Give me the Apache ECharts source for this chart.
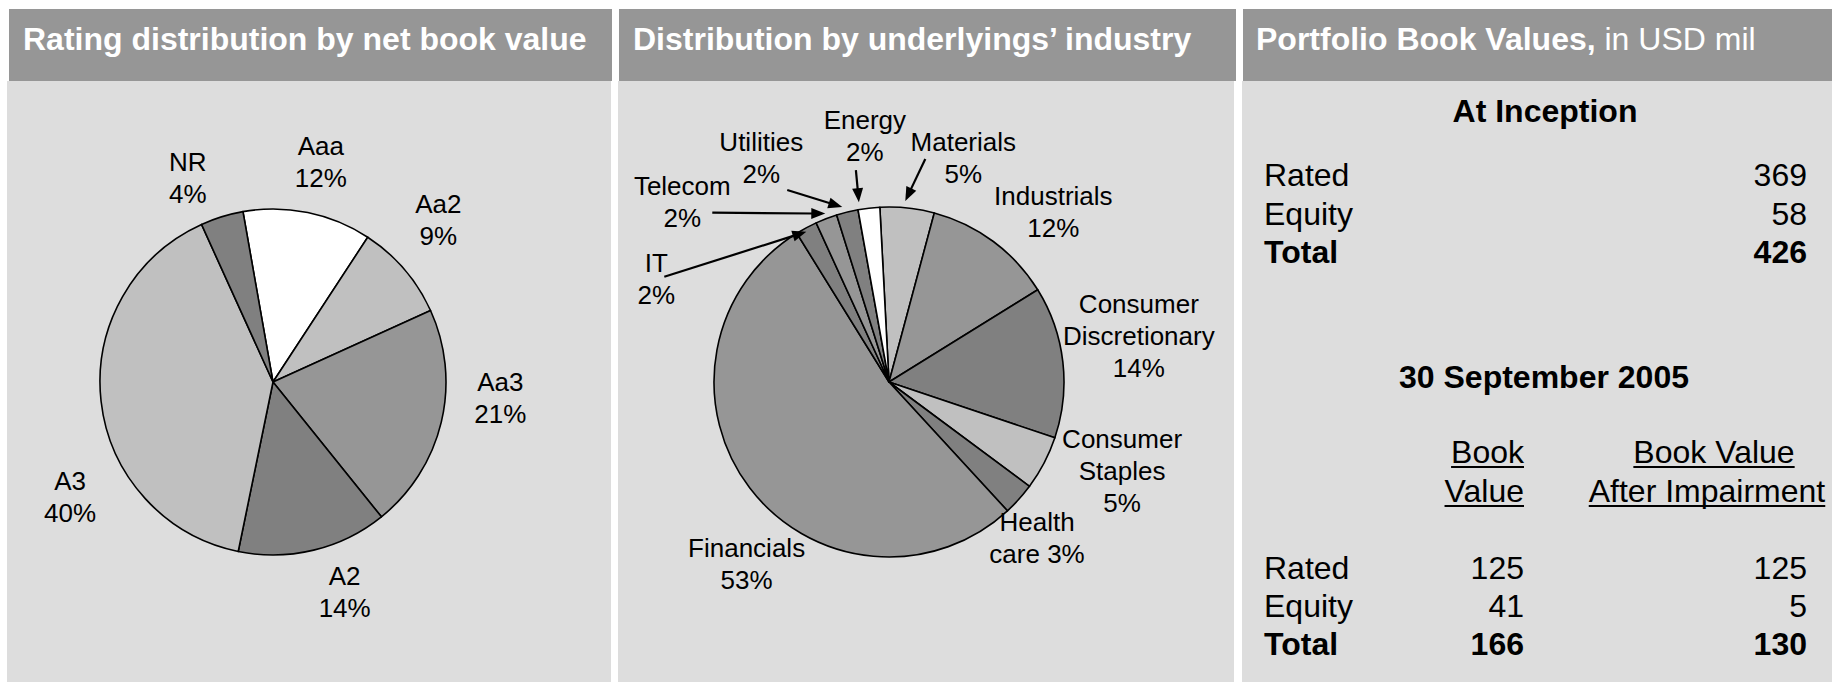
<!DOCTYPE html>
<html>
<head>
<meta charset="utf-8">
<script src="https://cdn.jsdelivr.net/npm/echarts@6/dist/echarts.min.js"></script>
<style>
  html, body { margin: 0; padding: 0; background: #ffffff; }
  #chart { width: 1832px; height: 682px; }
</style>
</head>
<body>
<div id="chart"></div>
<script>
// ---- data ----
const ratingNames = ['Aaa', 'Aa2', 'Aa3', 'A2', 'A3', 'NR'];
const ratingShares = [12, 9, 21, 14, 40, 4];

const industryNames = ['Materials', 'Industrials', 'Consumer\nDiscretionary', 'Consumer\nStaples',
  'Health\ncare', 'Financials', 'IT', 'Telecom', 'Utilities', 'Energy'];
const industryShares = [5, 12, 14, 5, 3, 53, 2, 2, 2, 2];

const panelTitles = ['Rating distribution by net book value', 'Distribution by underlyings\u2019 industry'];
const bookTitleBold = 'Portfolio Book Values,';
const bookTitleUnit = ' in USD mil';

const inceptionHeading = 'At Inception';
const inceptionRows = ['Rated', 'Equity', 'Total'];
const inceptionValues = [369, 58, 426];

const currentHeading = '30 September 2005';
const currentColumns = [['Book', 'Value'], ['Book Value', 'After Impairment']];
const currentRows = ['Rated', 'Equity', 'Total'];
const bookValues = [125, 41, 166];
const impairedValues = [125, 5, 130];

// ---- styling ----
const FONT = '"Liberation Sans", Arial, Helvetica, sans-serif';
const HEADER_FILL = '#969696';
const BODY_FILL = '#dddddd';
const ratingColors = ['#ffffff', '#c0c0c0', '#969696', '#808080', '#c0c0c0', '#808080'];
const industryColors = ['#c0c0c0', '#969696', '#808080', '#c0c0c0', '#808080', '#969696',
  '#808080', '#969696', '#808080', '#ffffff'];

// label placement: offset of each label centre from its slice's outer mid-arc point
const ratingLabelOffsets = [[13, -51], [34, -49], [59, -24], [31, 42], [-31, 96], [-34, -39]];
const industryLabelOffsets = [[56, -50], [60, -30], [76, -26], [78, 8], [18, 39], [-3, 76],
  [-150, 51], [-144, -17], [-86, -54], [-4, -72]];
// pointer arrows for the narrow slices: tail relative to label centre, tip relative to arc point
const industryArrows = {
  0: { tail: [-38, 1], tip: [-2, -7] },
  6: { tail: [8, -2], tip: [0, 4] },
  7: { tail: [30, 11], tip: [-1, -5] },
  8: { tail: [26, 32], tip: [-5, -5] },
  9: { tail: [-9, 34], tip: [-10, -6] }
};
// names whose percentage stays on the last line of the name
const inlinePercent = ['Health\ncare'];

const chart = echarts.init(document.getElementById('chart'), null, { renderer: 'svg', width: 1832, height: 682 });

function sliceArcPoint(seriesIndex, dataIndex) {
  const lay = chart.getModel().getSeriesByIndex(seriesIndex).getData().getItemLayout(dataIndex);
  const mid = (lay.startAngle + lay.endAngle) / 2;
  return [lay.cx + lay.r * Math.cos(mid), lay.cy + lay.r * Math.sin(mid)];
}

function makeLabelLayout(offsets) {
  return function (p) {
    const e = sliceArcPoint(p.seriesIndex, p.dataIndex);
    const o = offsets[p.dataIndex];
    return { x: e[0] + o[0], y: e[1] + o[1], align: 'center', verticalAlign: 'middle', hideOverlap: false };
  };
}

function pctLabel(p) {
  const sep = inlinePercent.indexOf(p.name) >= 0 ? ' ' : '\n';
  return p.name + sep + p.value + '%';
}

function pieSeries(names, values, colors, center, radius, startAngle, offsets) {
  return {
    type: 'pie',
    center: center,
    radius: radius,
    startAngle: startAngle,
    clockwise: true,
    silent: true,
    avoidLabelOverlap: false,
    emphasis: { disabled: true },
    itemStyle: { borderColor: '#000000', borderWidth: 1.6 },
    label: {
      show: true,
      position: 'outside',
      formatter: pctLabel,
      fontFamily: FONT,
      fontSize: 26,
      lineHeight: 32,
      color: '#000000',
      align: 'center'
    },
    labelLine: { show: false },
    labelLayout: makeLabelLayout(offsets),
    data: names.map((n, i) => ({ name: n, value: values[i], itemStyle: { color: colors[i] } }))
  };
}

// text width helper for underlines
const measureCtx = document.createElement('canvas').getContext('2d');
function textWidth(str, size, weight) {
  measureCtx.font = (weight || 'normal') + ' ' + size + 'px ' + FONT;
  return measureCtx.measureText(str).width;
}

function txt(id, text, x, y, align, bold, size) {
  return {
    type: 'text', id: id, z: 5,
    style: {
      x: x, y: y, text: text, fill: '#000000',
      font: (bold ? 'bold ' : '') + (size || 32) + 'px ' + FONT,
      align: align, verticalAlign: 'middle'
    }
  };
}

// panels
const elements = [
  { type: 'rect', id: 'body1', z: 0, shape: { x: 7, y: 81, width: 604, height: 601 }, style: { fill: BODY_FILL } },
  { type: 'rect', id: 'body2', z: 0, shape: { x: 618, y: 81, width: 616, height: 601 }, style: { fill: BODY_FILL } },
  { type: 'rect', id: 'body3', z: 0, shape: { x: 1242, y: 81, width: 590, height: 601 }, style: { fill: BODY_FILL } },
  { type: 'rect', id: 'head1', z: 0, shape: { x: 9, y: 9, width: 603, height: 72 }, style: { fill: HEADER_FILL } },
  { type: 'rect', id: 'head2', z: 0, shape: { x: 619, y: 9, width: 617, height: 72 }, style: { fill: HEADER_FILL } },
  { type: 'rect', id: 'head3', z: 0, shape: { x: 1243, y: 9, width: 589, height: 72 }, style: { fill: HEADER_FILL } },
  { type: 'text', id: 'title1', z: 5, style: { x: 23, y: 39, text: panelTitles[0], fill: '#ffffff',
      font: 'bold 32px ' + FONT, verticalAlign: 'middle' } },
  { type: 'text', id: 'title2', z: 5, style: { x: 633, y: 39, text: panelTitles[1], fill: '#ffffff',
      font: 'bold 32px ' + FONT, verticalAlign: 'middle' } },
  { type: 'text', id: 'title3', z: 5, style: { x: 1256, y: 39, fill: '#ffffff',
      text: '{b|' + bookTitleBold + '}{n|' + bookTitleUnit + '}', verticalAlign: 'middle',
      rich: {
        b: { fontFamily: FONT, fontSize: 32, fontWeight: 'bold', fill: '#ffffff' },
        n: { fontFamily: FONT, fontSize: 32, fontWeight: 'normal', fill: '#ffffff' }
      } } }
];

// book value table
const labelX = 1264, valueRight = 1807, bookRight = 1524;
elements.push(txt('incHead', inceptionHeading, 1545, 111, 'center', true));
const incY = [175, 214, 252];
inceptionRows.forEach((r, i) => {
  const bold = i === inceptionRows.length - 1;
  elements.push(txt('incRow' + i, r, labelX, incY[i], 'left', bold));
  elements.push(txt('incVal' + i, String(inceptionValues[i]), valueRight, incY[i], 'right', bold));
});
elements.push(txt('curHead', currentHeading, 1544, 377, 'center', true));
const colHeadY = [452, 491];
currentColumns[0].forEach((s, j) => {
  elements.push(txt('colA' + j, s, bookRight, colHeadY[j], 'right', false));
  const w = textWidth(s, 32);
  elements.push({ type: 'line', id: 'ulA' + j, z: 5, shape: { x1: bookRight - w, y1: colHeadY[j] + 15, x2: bookRight, y2: colHeadY[j] + 15 },
    style: { stroke: '#000000', lineWidth: 2 } });
});
const colBCenter = [1714, 1707];
currentColumns[1].forEach((s, j) => {
  elements.push(txt('colB' + j, s, colBCenter[j], colHeadY[j], 'center', false));
  const w = textWidth(s, 32);
  elements.push({ type: 'line', id: 'ulB' + j, z: 5, shape: { x1: colBCenter[j] - w / 2, y1: colHeadY[j] + 15, x2: colBCenter[j] + w / 2, y2: colHeadY[j] + 15 },
    style: { stroke: '#000000', lineWidth: 2 } });
});
const curY = [568, 606, 644];
currentRows.forEach((r, i) => {
  const bold = i === currentRows.length - 1;
  elements.push(txt('curRow' + i, r, labelX, curY[i], 'left', bold));
  elements.push(txt('curBook' + i, String(bookValues[i]), bookRight, curY[i], 'right', bold));
  elements.push(txt('curImp' + i, String(impairedValues[i]), valueRight, curY[i], 'right', bold));
});

chart.setOption({
  animation: false,
  backgroundColor: '#ffffff',
  graphic: { elements: elements },
  series: [
    pieSeries(ratingNames, ratingShares, ratingColors, [273, 382], 173, 100, ratingLabelOffsets),
    pieSeries(industryNames, industryShares, industryColors, [889, 382], 175, 93, industryLabelOffsets)
  ]
});

// arrows pointing from labels to the narrow slices, placed from the rendered pie layout
const arrowEls = [];
Object.keys(industryArrows).forEach(k => {
  const i = +k;
  const a = industryArrows[i];
  const e = sliceArcPoint(1, i);
  const o = industryLabelOffsets[i];
  const tail = [e[0] + o[0] + a.tail[0], e[1] + o[1] + a.tail[1]];
  const tip = [e[0] + a.tip[0], e[1] + a.tip[1]];
  const ang = Math.atan2(tip[1] - tail[1], tip[0] - tail[0]);
  const L = 14, W = 5.5;
  const base = [tip[0] - L * Math.cos(ang), tip[1] - L * Math.sin(ang)];
  const nx = -Math.sin(ang), ny = Math.cos(ang);
  arrowEls.push({ type: 'line', id: 'arrowLine' + i, z: 10,
    shape: { x1: tail[0], y1: tail[1], x2: base[0] + Math.cos(ang) * 2, y2: base[1] + Math.sin(ang) * 2 },
    style: { stroke: '#000000', lineWidth: 2.2 } });
  arrowEls.push({ type: 'polygon', id: 'arrowHead' + i, z: 10,
    shape: { points: [tip, [base[0] + nx * W, base[1] + ny * W], [base[0] - nx * W, base[1] - ny * W]] },
    style: { fill: '#000000' } });
});
chart.setOption({ graphic: { elements: arrowEls } });
</script>
</body>
</html>
